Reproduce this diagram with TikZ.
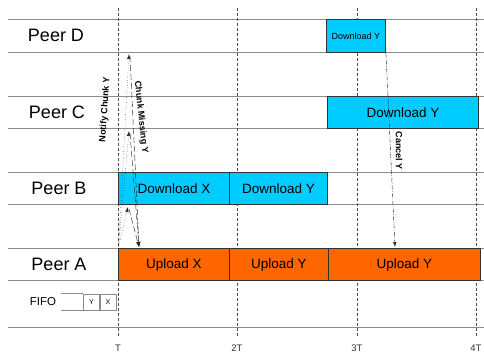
\documentclass[tikz,border=0pt]{standalone}
\usepackage{fontspec}
\setmainfont{Liberation Sans}
\usepackage{xcolor}
\usetikzlibrary{arrows.meta,positioning}
\definecolor{DCyan}{HTML}{00CCFF}
\definecolor{UOrange}{HTML}{FF6600}
\definecolor{RGrid}{HTML}{8C8C8C}
\definecolor{TGrid}{HTML}{4D4D4D}
\definecolor{BEdge}{HTML}{333333}

\begin{document}
\begin{tikzpicture}[x=1pt,y=-1pt,
  rowline/.style={draw=RGrid,line width=0.8pt},
  tick/.style={draw=TGrid,dash pattern=on 3pt off 2pt,line width=0.5pt},
  peer/.style={font=\fontsize{18}{20}\selectfont,inner sep=0pt},
  dl/.style={draw=BEdge,fill=DCyan,line width=0.9pt,minimum height=32.5pt,
    inner sep=0pt,anchor=north west,font=\fontsize{13.5}{15}\selectfont},
  ul/.style={dl,fill=UOrange},
  cell/.style={draw=RGrid,line width=0.6pt,minimum width=16pt,minimum height=16pt,
    inner sep=0pt,font=\fontsize{7}{8}\selectfont},
  msg/.style={-{Latex[length=5pt,width=3.5pt]},line width=0.45pt,color=black!85},
  notify/.style={msg,dotted},
  missing/.style={msg,dash pattern=on 6pt off 3pt},
  cancel/.style={msg,dash pattern=on 4pt off 1.5pt on 0.8pt off 1.5pt},
  lab/.style={font=\fontsize{9}{10}\selectfont\bfseries,inner sep=0pt}
]
  \useasboundingbox (0,0) rectangle (484,352);

  % rows and time marks
  \foreach \y in {19,52,96,128,172,204,248,280,327}
    \draw[rowline] (8,\y) -- (484,\y);
  \foreach \x/\t in {118/T,237/2T,357/3T,476/4T} {
    \draw[tick] (\x,8) -- (\x,336);
    \node[anchor=base,inner sep=0pt,font=\fontsize{9.5}{11}\selectfont,
      text=black!80] (t\t) at (\x,351) {\t};
  }

  % peers
  \node[peer] (peerD) at (56,35.5) {Peer D};
  \node[peer] (peerC) at (57,112) {Peer C};
  \node[peer] (peerB) at (59,188) {Peer B};
  \node[peer] (peerA) at (59,264) {Peer A};

  % transfers
  \node[dl,minimum width=59pt,minimum height=33pt,font=\fontsize{9}{10}\selectfont]
    (dD) at (326,19) {Download Y};
  \node[dl,minimum width=151pt] (dC) at (327,96) {Download Y};
  \node[dl,minimum width=111pt] (dBx) at (118,172) {Download X};
  \node[dl,minimum width=98pt] (dBy) at (229,172) {Download Y};
  \node[ul,minimum width=111pt] (uAx) at (118,248) {Upload X};
  \node[ul,minimum width=99pt] (uAy) at (229,248) {Upload Y};
  \node[ul,minimum width=152pt] (uAy2) at (328,248) {Upload Y};

  % FIFO
  \node[font=\fontsize{11.5}{13}\selectfont,inner sep=0pt] (fifo) at (43,302) {FIFO};
  \node[cell] (fx) at (108,302) {X};
  \node[cell,left=0pt of fx] (fy) {Y};
  \draw[draw=RGrid,line width=0.6pt] (fy.north west) -- ++(-22,0)
    (fy.south west) -- ++(-22,0);

  % messages
  \coordinate (aN) at (118.5,247);
  \coordinate (aM) at (139,247);
  \coordinate (dN) at (129,54);
  \coordinate (cN) at (129,131);
  \coordinate (bN) at (128,207);
  \foreach \p in {dN,cN,bN} {
    \draw[notify] (aN) -- (\p);
    \draw[missing] (\p) ++(1,2) -- (aM);
  }
  \coordinate (aC) at (395,247);
  \draw[cancel] (dD.south east) -- (aC);

  \node[lab,rotate=86] (nfy) at (105,110) {Notify Chunk Y};
  \node[lab,rotate=-84] (cmy) at (141,117) {Chunk Missing Y};
  \node[lab,rotate=-90] (cny) at (399,151) {Cancel Y};
\end{tikzpicture}
\end{document}
